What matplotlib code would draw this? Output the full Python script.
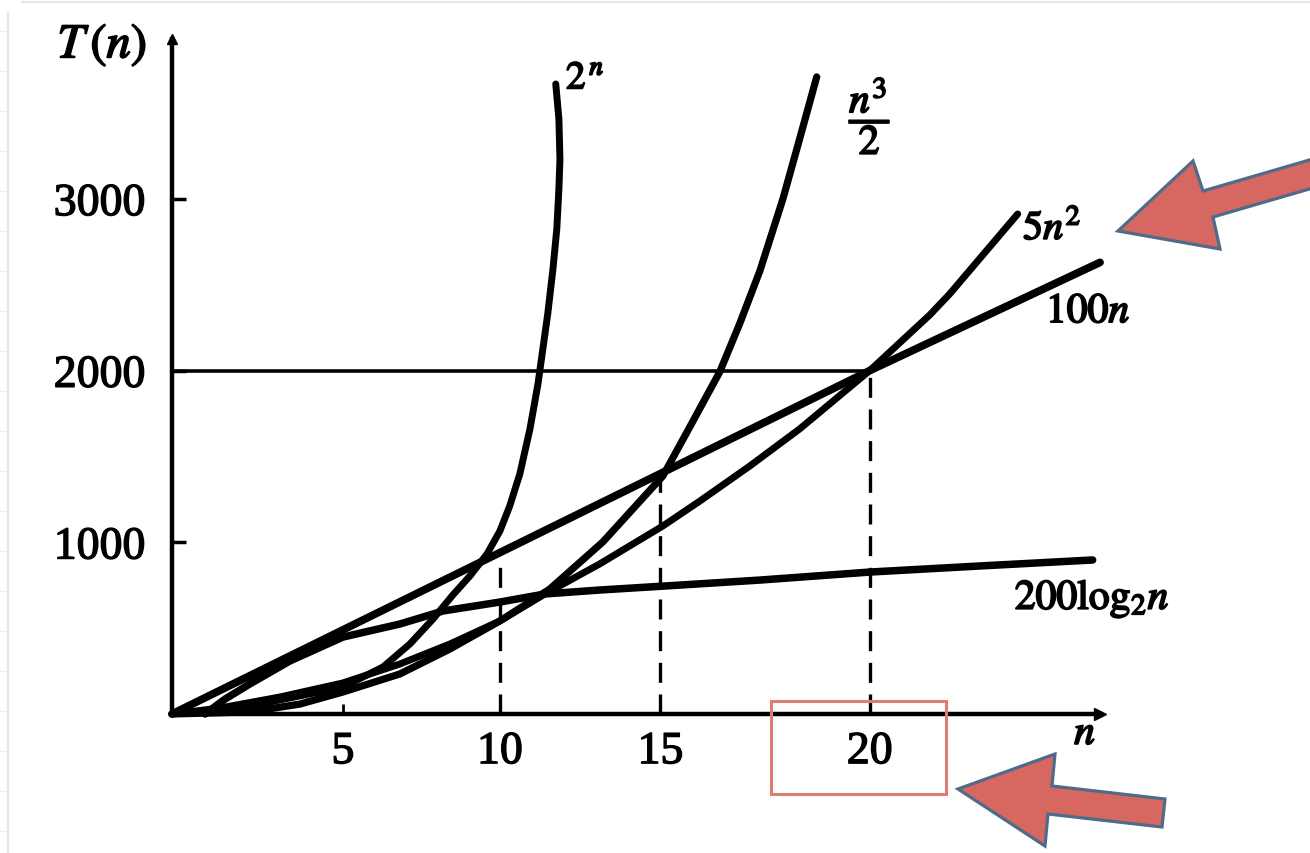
import matplotlib
matplotlib.use("Agg")
import matplotlib.pyplot as plt
import matplotlib.patheffects as pe
from matplotlib.patches import Polygon, Rectangle

plt.rcParams['mathtext.fontset'] = 'stix'
plt.rcParams['font.family'] = ['Liberation Serif', 'DejaVu Serif']

# values (n, T(n))
lin_n = [0, 10, 20, 26.6]
lin_T = [0, 1000, 2000, 2630]

sq_n = [0, 1.38, 3.09, 4.90, 6.53, 7.97, 9.40, 10.69, 12.26, 14.07, 15.13, 16.56, 17.99,
        20.0, 21.72, 22.29, 23.24, 24.24]
sq_T = [0, 35, 99, 181, 291, 408, 542, 699, 874, 1095, 1240, 1444, 1660,
        2000, 2324, 2446, 2673, 2912]

cube_n = [0, 2.23, 3.67, 4.90, 6.53, 7.97, 9.40, 10.83, 12.35, 14.07, 14.84, 15.70,
          16.28, 16.85, 17.51, 17.99, 18.48]
cube_T = [0, 12, 58, 128, 233, 379, 542, 728, 1002, 1386, 1671, 1992,
          2277, 2580, 2999, 3349, 3710]

exp_n = [0.52, 2.52, 4.90, 6.05, 6.82, 7.48, 8.05, 8.54, 9.03, 9.40, 9.68, 9.97, 10.26,
         10.49, 10.63, 10.77, 10.92, 11.03, 11.09, 11.12, 11.09, 11.00]
exp_T = [6, 58, 157, 274, 408, 553, 693, 804, 932, 1066, 1211, 1398, 1660,
         1922, 2126, 2330, 2592, 2825, 3058, 3232, 3465, 3669]

log_n = [0.95, 1.52, 2.23, 3.38, 4.90, 6.53, 7.77, 9.40, 10.69, 12.26, 14.10, 16.85,
         20.03, 23.15, 26.39]
log_T = [0, 87, 175, 309, 448, 524, 600, 652, 699, 722, 745, 780,
         827, 862, 897]

ref_T = 2000
ref_n_end = 20
guide_n = [9.4, 14.0, 20.0]
guide_top = [920, 1386, 1998]

x_ticks = [4.9, 9.4, 14.0, 20.0]
x_labels = ['5', '10', '15', '20']
y_ticks = [1000, 2000, 3000]
y_labels = ['1000', '2000', '3000']

W, H = 1310, 854
fig = plt.figure(figsize=(W / 100, H / 100), dpi=100)
ax = fig.add_axes([172 / W, 139 / H, 928 / W, 675 / H])
ax.set_xlim(0, 26.6)
ax.set_ylim(0, 3931)

ink = dict(color='black', solid_capstyle='round', solid_joinstyle='round', clip_on=False)
ax.plot(lin_n, lin_T, lw=5.6, **ink)
ax.plot(sq_n, sq_T, lw=5.0, **ink)
ax.plot(cube_n, cube_T, lw=5.2, **ink)
ax.plot(exp_n, exp_T, lw=5.0, **ink)
ax.plot(log_n, log_T, lw=5.4, **ink)

ax.plot([0, ref_n_end], [ref_T, ref_T], color='black', lw=2.6)
ax.vlines(guide_n, 0, guide_top, colors='black', lw=2.4, linestyles=(0, (6, 3.5)))

for s in ['top', 'right']:
    ax.spines[s].set_visible(False)
for s in ['left', 'bottom']:
    ax.spines[s].set_linewidth(3.2)
ax.plot(1, 0, '>', color='black', ms=9, transform=ax.transAxes, clip_on=False)
ax.plot(0, 1, '^', color='black', ms=7, transform=ax.transAxes, clip_on=False)

thick = [pe.withStroke(linewidth=1.0, foreground='black')]
ax.set_xticks(x_ticks)
ax.set_xticklabels(x_labels)
ax.set_yticks(y_ticks)
ax.set_yticklabels(y_labels)
ax.tick_params(axis='x', direction='in', length=7, width=2, pad=12, labelsize=33)
ax.tick_params(axis='y', direction='in', length=10, width=2.5, pad=19, labelsize=33)
for lab in ax.get_xticklabels() + ax.get_yticklabels():
    lab.set_path_effects(thick)

# overlay in pixel units for labels and the slide decorations
ov = fig.add_axes([0, 0, 1, 1])
ov.set_xlim(0, W)
ov.set_ylim(H, 0)
ov.axis('off')

ov.plot([8, 8], [14, H], color='#e6e6e6', lw=1.5)
ov.plot([22, W], [3, 3], color='#e6e6e6', lw=1.5)
for yy in range(32, H, 40):
    ov.plot([0, 8], [yy, yy], color='#eeeeee', lw=1)

lab = dict(color='black', path_effects=[pe.withStroke(linewidth=1.3, foreground='black')])
ov.text(102, 46, r'$T\,(n)$', fontsize=35, ha='center', va='center', **lab)
ov.text(566, 80, r'$2^{\,n}$', fontsize=28, ha='left', va='center', **lab)
ov.text(870, 117, r'$\dfrac{n^3}{2}$', fontsize=30, ha='center', va='center', **lab)
ov.text(1052, 230, r'$5n^2$', fontsize=29, ha='center', va='center', **lab)
ov.text(1088, 313, r'$100n$', fontsize=30, ha='center', va='center', **lab)
ov.text(1092, 600, r'$200\mathrm{log}_2n$', fontsize=30, ha='center', va='center', **lab)
ov.text(1085, 735, r'$n$', fontsize=30, ha='center', va='center', **lab)

ov.add_patch(Rectangle((771, 702), 175, 93, fill=False, ec='#e07b73', lw=2.2))

arrow_fc, arrow_ec = '#d66761', '#4f6b8a'
ov.add_patch(Polygon([(1118, 232), (1193, 162), (1203, 192), (1330, 155),
                      (1330, 184), (1213, 218), (1220, 250)],
                     closed=True, fc=arrow_fc, ec=arrow_ec, lw=2.3, joinstyle='miter'))
ov.add_patch(Polygon([(958, 790), (1055, 755), (1052, 787), (1165, 800),
                      (1162, 828), (1048, 815), (1045, 847)],
                     closed=True, fc=arrow_fc, ec=arrow_ec, lw=2.3, joinstyle='miter'))

fig.savefig('out.png', dpi=100)
